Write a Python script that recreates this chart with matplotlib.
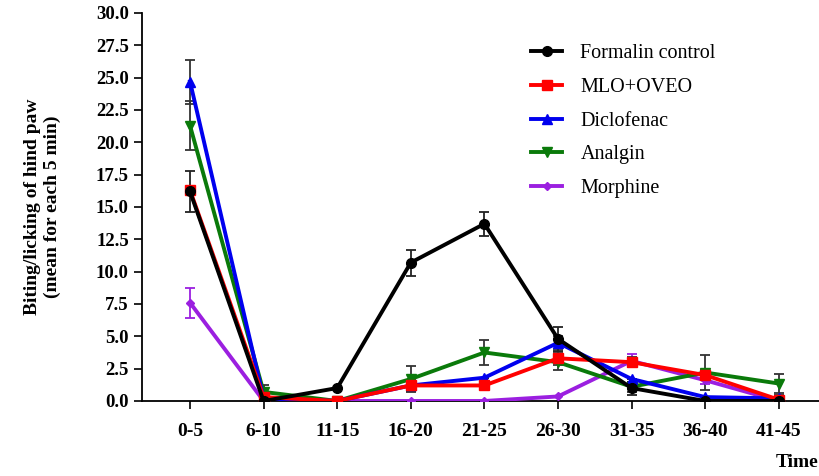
import matplotlib.pyplot as plt
import numpy as np

# Donnees
times = ['0-5', '6-10', '11-15', '16-20', '21-25', '26-30', '31-35', '36-40', '41-45']

formalin = [16.2, 0.0, 1.0, 10.7, 13.7, 4.8, 1.0, 0.0, 0.0]
formalin_err = [1.6, 0.0, 0.0, 1.0, 0.95, 0.9, 0.5, 0.0, 0.0]

mlo_oveo = [16.3, 0.3, 0.0, 1.2, 1.2, 3.3, 3.0, 2.0, 0.1]
mlo_oveo_err = [0.0, 0.0, 0.0, 0.4, 0.0, 0.5, 0.4, 0.4, 0.0]

diclofenac = [24.7, 0.2, 0.0, 1.2, 1.8, 4.5, 1.7, 0.3, 0.2]
diclofenac_err = [1.7, 0.0, 0.0, 0.0, 0.0, 0.5, 0.0, 0.0, 0.3]

analgin = [21.3, 0.7, 0.0, 1.7, 3.75, 3.0, 1.1, 2.2, 1.35]
analgin_err = [1.9, 0.5, 0.0, 1.0, 0.95, 0.6, 0.4, 1.35, 0.7]

morphine = [7.6, 0.0, 0.0, 0.0, 0.0, 0.35, 3.1, 1.6, 0.0]
morphine_err = [1.15, 0.0, 0.0, 0.0, 0.0, 0.0, 0.5, 0.3, 0.0]

plt.rcParams['font.family'] = ['Liberation Serif', 'DejaVu Serif']
plt.rcParams['font.weight'] = 'bold'

fig = plt.figure(figsize=(8.19, 4.76), dpi=100)
ax = fig.add_axes([0.1734, 0.1576, 0.8266, 0.8151])

x = np.arange(len(times))

series = [
    ('Morphine', morphine, morphine_err, '#9b1fe0', 'D', 4.5, '#9b1fe0'),
    ('Analgin', analgin, analgin_err, '#0a7a0a', 'v', 6.5, '#333333'),
    ('Diclofenac', diclofenac, diclofenac_err, '#0000ee', '^', 6.5, '#333333'),
    ('MLO+OVEO', mlo_oveo, mlo_oveo_err, '#ff0000', 's', 6.5, '#333333'),
    ('Formalin control', formalin, formalin_err, '#000000', 'o', 7, '#222222'),
]

handles = {}
for name, vals, err, col, mk, ms, ecol in series:
    ax.errorbar(x, vals, yerr=err, fmt='none', ecolor=ecol, elinewidth=1.3,
                capsize=3.8, capthick=1.3, zorder=2)
    h, = ax.plot(x, vals, color=col, marker=mk, markersize=ms, linewidth=2.8,
                 label=name, zorder=3)
    handles[name] = h

order = ['Formalin control', 'MLO+OVEO', 'Diclofenac', 'Analgin', 'Morphine']
ax.legend([handles[n] for n in order], order, loc='upper left',
          bbox_to_anchor=(0.548, 0.966), frameon=False, handlelength=1.55,
          handletextpad=0.9, labelspacing=0.72,
          prop={'family': 'Liberation Serif', 'weight': 'normal', 'size': 14.5})

ax.set_xlim(-0.652, 8.546)
ax.set_ylim(0, 30)
ax.set_xticks(x)
ax.set_xticklabels(times)
ax.set_yticks(np.arange(0, 30.1, 2.5))
ax.set_yticklabels([f'{v:.1f}' for v in np.arange(0, 30.1, 2.5)])
ax.tick_params(axis='both', direction='out', length=6, width=1.2)
ax.tick_params(axis='x', pad=10, labelsize=14)
ax.tick_params(axis='y', labelsize=13.5)

ax.spines['top'].set_visible(False)
ax.spines['right'].set_visible(False)
ax.spines['left'].set_linewidth(1.3)
ax.spines['bottom'].set_linewidth(1.3)

ax.set_ylabel('Biting/licking of hind paw\n(mean for each 5 min)', fontsize=14,
              fontweight='bold', labelpad=25)
fig.text(0.999, 0.01, 'Time', fontsize=14, fontweight='bold', ha='right', va='bottom')

fig.savefig('out.png', dpi=100)
